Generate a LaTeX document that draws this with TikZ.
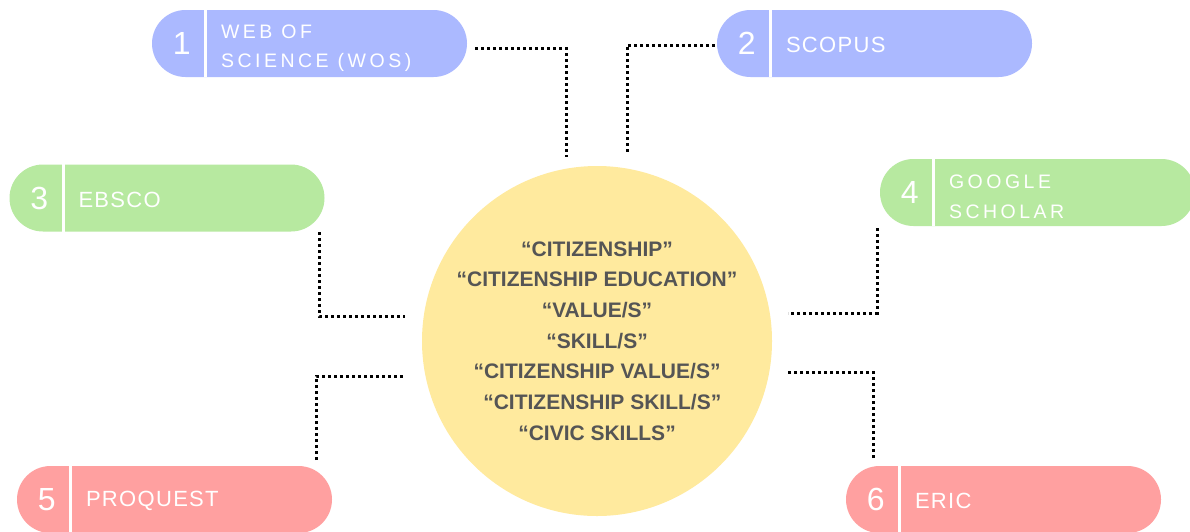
\documentclass[tikz,border=0pt]{standalone}
\usepackage{fontspec}
\setmainfont{Liberation Sans}
\newfontfamily\pillfontA[LetterSpace=6]{Liberation Sans}
\newfontfamily\pillfontB[LetterSpace=18]{Liberation Sans}
\definecolor{pblue}{RGB}{171,185,255}
\definecolor{pgreen}{RGB}{183,233,160}
\definecolor{ppink}{RGB}{255,160,160}
\definecolor{cyel}{RGB}{255,234,158}
\definecolor{tgray}{RGB}{85,85,85}
\tikzset{
  pill/.style={rectangle, rounded corners=33.5pt, minimum width=315pt, minimum height=67pt, inner sep=0pt, draw=none},
  numtxt/.style={text=white, inner sep=0pt, font=\fontsize{32}{32}\selectfont},
  labtxt/.style={text=white, inner sep=0pt, align=left, anchor=west},
  single/.style={font=\pillfontA\fontsize{22}{30}\selectfont, yshift=-1.5pt},
  double/.style={font=\pillfontB\fontsize{19.5}{29.5}\selectfont, yshift=-4.5pt},
  dotline/.style={line width=3pt, dash pattern=on 3pt off 3pt, black},
  divider/.style={white, line width=3pt}
}
\newcommand\mkpill[7]{%
  \node[pill, fill=#4] (#1) at (#2,#3) {};
  \draw[divider] ([xshift=54pt]#1.north west) -- ([xshift=54pt]#1.south west);
  \node[numtxt] (#1n) at ([xshift=30pt]#1.west) {#5};
  \node[labtxt, #7] (#1t) at ([xshift=69pt]#1.west) {#6};
}
\begin{document}
\begin{tikzpicture}[x=1pt,y=-1pt]
\useasboundingbox (0,0) rectangle (1190,531);
\fill[white] (0,0) rectangle (1190,531);
% central circle
\node[circle, fill=cyel, minimum size=350pt, inner sep=0pt, align=center, text=tgray,
      font=\bfseries\fontsize{21}{30.7}\selectfont] (c) at (597,341)
  {“CITIZENSHIP”\\“CITIZENSHIP EDUCATION”\\“VALUE/S”\\“SKILL/S”\\“CITIZENSHIP VALUE/S”\\\hspace{0.5em}“CITIZENSHIP SKILL/S”\\“CIVIC SKILLS”};
% pills
\mkpill{p1}{309.5}{43.5}{pblue}{1}{WEB OF\\SCIENCE (WOS)}{double}
\mkpill{p2}{874.5}{43.5}{pblue}{2}{SCOPUS}{single}
\mkpill{p3}{167}{198}{pgreen}{3}{EBSCO}{single}
\mkpill{p4}{1037.5}{192.5}{pgreen}{4}{GOOGLE\\SCHOLAR}{double}
\mkpill{p5}{174.5}{499.5}{ppink}{5}{PROQUEST}{single}
\mkpill{p6}{1003.5}{499.5}{ppink}{6}{ERIC}{single}
% connector ends
\coordinate (a1) at (475,48);   \coordinate (a2) at (566,157);
\coordinate (b1) at (715,45);   \coordinate (b2) at (627,153);
\coordinate (c1) at (319,232);  \coordinate (c2) at (405,316);
\coordinate (d1) at (877,228);  \coordinate (d2) at (788,313);
\coordinate (e1) at (316,460);  \coordinate (e2) at (403,376);
\coordinate (f1) at (873,458);  \coordinate (f2) at (787,372);
\draw[dotline] (a1) -| (a2);
\draw[dotline] (b1) -| (b2);
\draw[dotline] (c1) |- (c2);
\draw[dotline] (d1) |- (d2);
\draw[dotline] (e1) |- (e2);
\draw[dotline] (f1) |- (f2);
\end{tikzpicture}
\end{document}
